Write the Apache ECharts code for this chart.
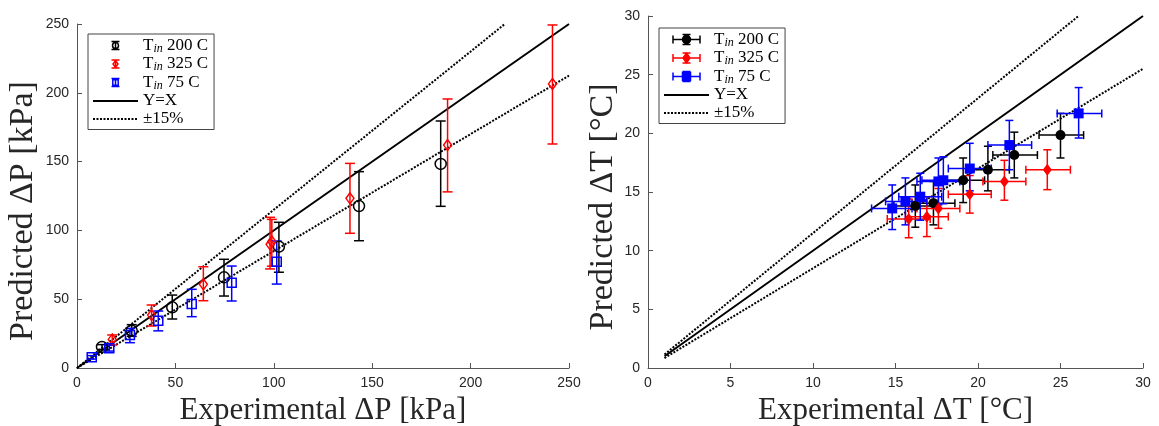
<!DOCTYPE html>
<html><head><meta charset="utf-8">
<script src="https://cdn.jsdelivr.net/npm/echarts@6/dist/echarts.min.js"></script>
<style>html,body{margin:0;padding:0;background:#fff}#c{width:1159px;height:426px}</style>
</head><body><div id="c"></div>
<script>
// ---- Left panel: pressure drop [x, y, yLow, yHigh] (kPa)
var dp200 = [[12.7,15.3,13.5,17.0],[27.8,27.1,23.0,31.5],[48.4,44.1,35.6,53.0],[74.7,65.9,52.3,79.0],[102.6,88.2,69.6,105.9],[143.3,117.7,92.5,142.7],[184.8,148.3,117.5,179.5]];
var dp325 = [[17.9,20.8,16.7,24.0],[37.9,38.5,30.5,45.8],[64.2,60.8,48.9,73.6],[98.1,89.9,72.0,109.5],[99.0,92.0,74.0,108.0],[138.7,123.3,97.9,148.7],[188.3,162.0,128.0,195.5],[241.6,206.4,162.8,249.3]];
var dp75 = [[7.5,7.8,6.5,9.0],[16.4,14.3,12.3,16.5],[26.9,24.0,18.4,28.8],[41.3,34.4,27.0,41.4],[58.3,46.5,37.3,57.2],[78.6,62.0,48.7,74.1],[101.5,77.3,61.0,92.3]];
var dpLineYX = [[0,0],[250,250]];
var dpLineUp = [[0,0],[217.4,250]];
var dpLineLo = [[0,0],[250,212.5]];
// ---- Right panel: temperature difference [x, y, xLow, xHigh, yLow, yHigh] (degC)
var dt200 = [[16.2,13.8,14.9,17.5,12.0,15.6],[17.3,14.05,16.0,18.6,12.2,15.9],[19.1,16.0,17.8,20.4,14.1,17.9],[20.6,16.9,19.3,21.9,15.1,18.9],[22.2,18.15,20.9,23.6,16.2,20.1],[25.0,19.85,23.7,26.4,17.9,21.7]];
var dt325 = [[15.8,12.7,14.5,17.1,11.1,14.4],[16.9,12.9,15.6,18.2,11.2,14.6],[17.6,13.6,16.3,18.9,11.9,15.3],[19.5,14.8,18.2,20.8,13.2,16.4],[21.6,15.9,20.3,22.9,14.3,17.7],[24.2,16.9,22.9,25.6,15.2,18.6]];
var dt75 = [[14.8,13.6,13.55,16.0,11.8,15.6],[15.6,14.2,14.4,16.9,12.2,16.2],[16.5,14.6,15.2,17.8,12.6,16.6],[17.6,15.9,16.3,18.9,13.9,17.9],[17.9,16.0,16.6,19.2,14.0,18.0],[19.5,17.0,18.2,20.8,15.1,19.15],[21.9,19.0,20.6,23.25,16.9,21.1],[26.1,21.7,24.8,27.5,19.6,23.9]];
var dtLineYX = [[1,1],[30,30]];
var dtLineUp = [[1,1.15],[26.09,30]];
var dtLineLo = [[1,0.85],[30,25.5]];
// ---- axis ticks
var dpTicks = {min:0, max:250, interval:50};
var dtTicks = {min:0, max:30, interval:5};

var N200='T_in 200 C', N325='T_in 325 C', N75='T_in 75 C', NYX='Y=X', NPM='±15%';

function errY(cap){
  return function(params, api){
    var x=api.value(0), lo=api.value(2), hi=api.value(3);
    var a=api.coord([x,hi]), b=api.coord([x,lo]);
    var c=api.visual('color');
    var st={stroke:c,lineWidth:1.5};
    return {type:'group',children:[
      {type:'line',shape:{x1:a[0],y1:a[1],x2:b[0],y2:b[1]},style:st},
      {type:'line',shape:{x1:a[0]-cap,y1:a[1],x2:a[0]+cap,y2:a[1]},style:st},
      {type:'line',shape:{x1:b[0]-cap,y1:b[1],x2:b[0]+cap,y2:b[1]},style:st}
    ]};
  };
}
function errXY(cap){
  return function(params, api){
    var x=api.value(0), y=api.value(1);
    var l=api.coord([api.value(2),y]), r=api.coord([api.value(3),y]);
    var t=api.coord([x,api.value(5)]), b=api.coord([x,api.value(4)]);
    var c=api.visual('color');
    var st={stroke:c,lineWidth:1.5};
    return {type:'group',children:[
      {type:'line',shape:{x1:t[0],y1:t[1],x2:b[0],y2:b[1]},style:st},
      {type:'line',shape:{x1:t[0]-cap,y1:t[1],x2:t[0]+cap,y2:t[1]},style:st},
      {type:'line',shape:{x1:b[0]-cap,y1:b[1],x2:b[0]+cap,y2:b[1]},style:st},
      {type:'line',shape:{x1:l[0],y1:l[1],x2:r[0],y2:r[1]},style:st},
      {type:'line',shape:{x1:l[0],y1:l[1]-cap,x2:l[0],y2:l[1]+cap},style:st},
      {type:'line',shape:{x1:r[0],y1:r[1]-cap,x2:r[0],y2:r[1]+cap},style:st}
    ]};
  };
}

var serif='Liberation Serif';
var axisCommon = {
  axisLine:{show:true,lineStyle:{color:'#555',width:1}},
  axisTick:{show:true,inside:true,length:5,lineStyle:{color:'#555'}},
  splitLine:{show:false},
  axisLabel:{color:'#262626',fontFamily:'Liberation Sans',fontSize:14},
  nameLocation:'middle',
  nameTextStyle:{fontFamily:serif,fontSize:31,color:'#262626'}
};
function ax(extra){var o=JSON.parse(JSON.stringify(axisCommon));for(var k in extra)o[k]=extra[k];return o;}
var yNameStyle={fontFamily:serif,fontSize:34,color:'#262626',padding:[0,30,0,0]};

// legend icons drawn in a 45x15 box (zero-length corner segments fix the box size)
var BOX=' M0,0 L0,0 M45,15 L45,15';
var iconOpenC='path://M18.5,3.5 L26.5,3.5 M22.5,3.5 L22.5,11.5 M18.5,11.5 L26.5,11.5 M19.5,7.5 A3,3 0 1 0 25.5,7.5 A3,3 0 1 0 19.5,7.5'+BOX;
var iconOpenD='path://M18.5,3.5 L26.5,3.5 M22.5,3.5 L22.5,11.5 M18.5,11.5 L26.5,11.5 M22.5,4 L25,7.5 L22.5,11 L20,7.5 Z'+BOX;
var iconOpenS='path://M18.5,3.5 L26.5,3.5 M22.5,3.5 L22.5,11.5 M18.5,11.5 L26.5,11.5 M19.8,4.8 L25.2,4.8 L25.2,10.2 L19.8,10.2 Z'+BOX;
var HV='M9,3.5 L9,11.5 M9,7.5 L36,7.5 M36,3.5 L36,11.5 M18.5,2.5 L26.5,2.5 M22.5,2.5 L22.5,12.5 M18.5,12.5 L26.5,12.5 ';
var iconFullC='path://'+HV+'M18.5,7.5 A4,4 0 1 0 26.5,7.5 A4,4 0 1 0 18.5,7.5'+BOX;
var iconFullD='path://'+HV+'M22.5,2.5 L26,7.5 L22.5,12.5 L19,7.5 Z'+BOX;
var iconFullS='path://'+HV+'M18.5,3.5 L26.5,3.5 L26.5,11.5 L18.5,11.5 Z'+BOX;
var iconLine='path://M0,7.5 L45,7.5'+BOX;

function legendFmt(name){
  var m=name.match(/^T_in (.*)$/);
  if(m) return '{t|T}{s|in}{t| '+m[1]+'}';
  return '{t|'+name+'}';
}
var legRich={t:{fontFamily:serif,fontSize:17,color:'#000',lineHeight:18},s:{fontFamily:serif,fontStyle:'italic',fontSize:12,color:'#000',verticalAlign:'bottom',lineHeight:10}};
function legend(left,top,icons,open){
  var cols=['#000','#f00','#00f'];
  var names=[N200,N325,N75];
  var data=names.map(function(n,i){
    return {name:n,icon:icons[i],itemStyle:{color:open?'rgba(0,0,0,0)':cols[i],borderColor:cols[i],borderWidth:1.5}};
  });
  data.push({name:NYX,icon:iconLine,itemStyle:{color:'rgba(0,0,0,0)',borderColor:'#000',borderWidth:2,borderType:'solid'}});
  data.push({name:NPM,icon:iconLine,itemStyle:{color:'rgba(0,0,0,0)',borderColor:'#000',borderWidth:2,borderType:[2,1.5]}});
  return {orient:'vertical',left:left,top:top,itemWidth:45,itemHeight:15,itemGap:1,
    padding:[3,6,2,4],borderColor:'#444',borderWidth:1,backgroundColor:'#fff',
    selectedMode:false,formatter:legendFmt,textStyle:{rich:legRich},data:data};
}

var lineS = function(name,data,xi,dotted){
  return {type:'line',name:name,xAxisIndex:xi,yAxisIndex:xi,data:data,symbol:'none',silent:true,
    lineStyle:{color:'#000',width:2,type:dotted?[2,1.5]:'solid'},itemStyle:{color:'#000'},z:1};
};
function errS(name,data,xi,col,fn){
  return {type:'custom',name:name,xAxisIndex:xi,yAxisIndex:xi,data:data,renderItem:fn,itemStyle:{color:col},
    encode:{x:0,y:1},z:2,silent:true};
}
function scat(name,data,xi,col,sym,size,open){
  return {type:'scatter',name:name,xAxisIndex:xi,yAxisIndex:xi,data:data.map(function(d){return [d[0],d[1]];}),
    symbol:sym,symbolSize:size,silent:true,z:3,
    itemStyle:{color:open?'rgba(0,0,0,0)':col,borderColor:col,borderWidth:open?1.5:0,opacity:1}};
}

var chart=echarts.init(document.getElementById('c'),null,{renderer:'canvas'});
chart.setOption({
  animation:false,
  backgroundColor:'#fff',
  grid:[{left:77,top:24,width:492,height:344,containLabel:false,outerBoundsMode:'none'},
        {left:648,top:16,width:495,height:352,containLabel:false,outerBoundsMode:'none'}],
  xAxis:[ax({gridIndex:0,type:'value',min:dpTicks.min,max:dpTicks.max,interval:dpTicks.interval,name:'Experimental ΔP [kPa]',nameGap:27}),
         ax({gridIndex:1,type:'value',min:dtTicks.min,max:dtTicks.max,interval:dtTicks.interval,name:'Experimental ΔT [°C]',nameGap:27})],
  yAxis:[ax({gridIndex:0,type:'value',min:dpTicks.min,max:dpTicks.max,interval:dpTicks.interval,name:'Predicted ΔP [kPa]',nameGap:37,nameTextStyle:yNameStyle}),
         ax({gridIndex:1,type:'value',min:dtTicks.min,max:dtTicks.max,interval:dtTicks.interval,name:'Predicted ΔT [°C]',nameGap:18,nameTextStyle:yNameStyle})],
  legend:[legend(88,34,[iconOpenC,iconOpenD,iconOpenS],true),legend(659,28,[iconFullC,iconFullD,iconFullS],false)],
  series:[
    lineS(NYX,dpLineYX,0,false), lineS(NPM,dpLineUp,0,true), lineS(NPM,dpLineLo,0,true),
    errS(N200,dp200,0,'#000',errY(5)), errS(N325,dp325,0,'#f00',errY(5)), errS(N75,dp75,0,'#00f',errY(5)),
    scat(N200,dp200,0,'#000','circle',11,true), scat(N325,dp325,0,'#f00','diamond',[8,11],true), scat(N75,dp75,0,'#00f','rect',9,true),
    lineS(NYX,dtLineYX,1,false), lineS(NPM,dtLineUp,1,true), lineS(NPM,dtLineLo,1,true),
    errS(N200,dt200,1,'#000',errXY(4)), errS(N325,dt325,1,'#f00',errXY(4)), errS(N75,dt75,1,'#00f',errXY(4)),
    scat(N200,dt200,1,'#000','circle',10,false), scat(N325,dt325,1,'#f00','diamond',[9,12],false), scat(N75,dt75,1,'#00f','rect',10,false)
  ]
});
</script></body></html>
